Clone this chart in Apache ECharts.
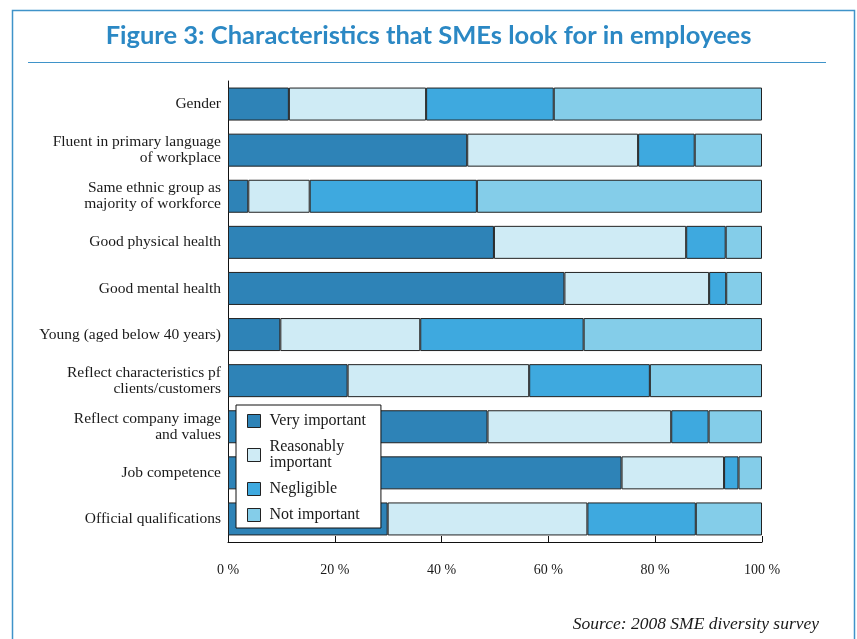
<!DOCTYPE html>
<html>
<head>
<meta charset="utf-8">
<script src="https://cdn.jsdelivr.net/npm/echarts@6/dist/echarts.min.js"></script>
<style>html,body{margin:0;padding:0;background:#fff}#c{width:857px;height:639px}</style>
</head>
<body>
<div id="c"></div>
<script>
const categories = [
  'Gender',
  'Fluent in primary language\nof workplace',
  'Same ethnic group as\nmajority of workforce',
  'Good physical health',
  'Good mental health',
  'Young (aged below 40 years)',
  'Reflect characteristics pf\nclients/customers',
  'Reflect company image\nand values',
  'Job competence',
  'Official qualifications'
];
const seriesNames = ['Very important', 'Reasonably important', 'Negligible', 'Not important'];
const veryImportant       = [11.4, 44.8, 3.8, 49.8, 63.0, 9.8, 22.4, 48.6, 73.7, 29.9];
const reasonablyImportant = [25.7, 32.0, 11.5, 36.0, 27.1, 26.2, 34.0, 34.4, 19.2, 37.4];
const negligible          = [23.9, 10.6, 31.3, 7.4, 3.2, 30.6, 22.6, 7.0, 2.7, 20.3];
const notImportant        = [39.0, 12.6, 53.4, 6.8, 6.7, 33.4, 21.0, 10.0, 4.4, 12.4];
const xTicks = [0, 20, 40, 60, 80, 100];

const colors = ['#2e83b7', '#cfebf5', '#3ea9df', '#84cde9'];
const values = [veryImportant, reasonablyImportant, negligible, notImportant];

const chart = echarts.init(document.getElementById('c'), null, {renderer: 'canvas'});
const serif = '"Liberation Serif", "DejaVu Serif", serif';

chart.setOption({
  animation: false,
  title: {
    text: 'Figure 3: Characteristics that SMEs look for in employees',
    left: 'center',
    top: 18,
    textStyle: {fontFamily: 'Lato', fontWeight: 'bold', fontSize: 25.5, color: '#2b88c4'}
  },
  graphic: [
    {type: 'rect', shape: {x: 12.5, y: 10.5, width: 842, height: 660}, style: {fill: 'none', stroke: '#3f93c9', lineWidth: 1.5}, silent: true},
    {type: 'line', shape: {x1: 28, y1: 62.5, x2: 826, y2: 62.5}, style: {stroke: '#3f93c9', lineWidth: 1.2}, silent: true},
    {type: 'text', right: 38, top: 615, style: {text: 'Source: 2008 SME diversity survey', font: 'italic 17.5px ' + serif, fill: '#1a1a1a'}}
  ],
  legend: {
    orient: 'vertical',
    left: 236,
    top: 405,
    data: seriesNames,
    formatter: n => n === 'Reasonably important' ? 'Reasonably\nimportant' : n,
    backgroundColor: '#fff',
    borderColor: '#111',
    borderWidth: 1,
    padding: [8, 15, 5, 11],
    itemGap: 10,
    itemWidth: 13,
    itemHeight: 13,
    icon: 'rect',
    itemStyle: {borderColor: '#222', borderWidth: 1},
    textStyle: {fontFamily: serif, fontSize: 16, color: '#1a1a1a', lineHeight: 16, padding: [0, 0, 0, 4]}
  },
  grid: {left: 228, right: 95, top: 81, bottom: 97},
  xAxis: {
    type: 'value',
    min: 0,
    max: 100,
    interval: 20,
    axisLine: {show: true, lineStyle: {color: '#111', width: 1}},
    axisTick: {show: true, inside: true, length: 6, lineStyle: {color: '#111'}},
    splitLine: {show: false},
    axisLabel: {
      margin: 21,
      fontFamily: serif,
      fontSize: 14,
      color: '#1a1a1a',
      formatter: v => xTicks.includes(v) ? v + ' %' : ''
    }
  },
  yAxis: {
    type: 'category',
    data: categories,
    inverse: true,
    axisLine: {show: true, lineStyle: {color: '#111', width: 1}},
    axisTick: {show: false},
    axisLabel: {margin: 7, fontFamily: serif, fontSize: 15.5, color: '#1a1a1a', lineHeight: 16, align: 'right'}
  },
  series: seriesNames.map((name, i) => ({
    name: name,
    type: 'bar',
    stack: 'total',
    barWidth: 33,
    data: values[i],
    itemStyle: {color: colors[i], borderColor: '#222', borderWidth: 1}
  }))
});
</script>
</body>
</html>
